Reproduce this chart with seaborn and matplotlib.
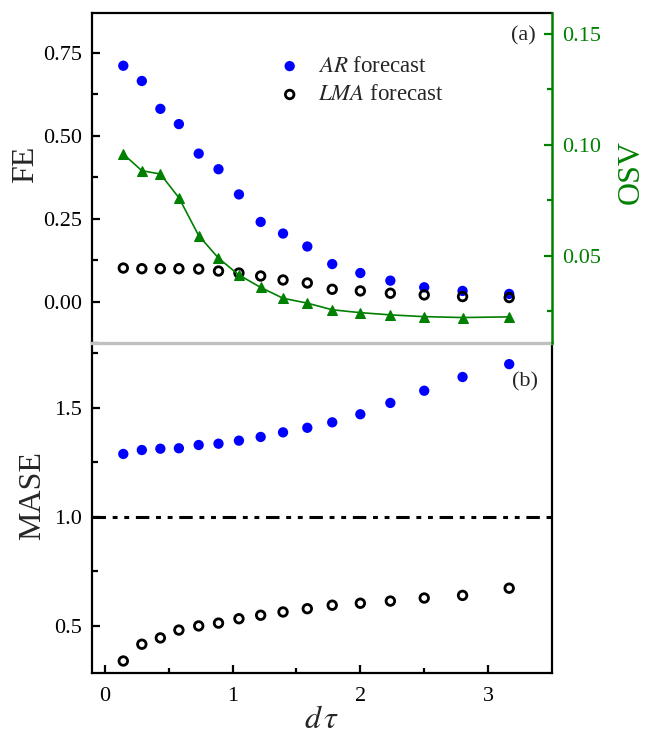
import numpy as np
import pandas as pd
import matplotlib
matplotlib.use("Agg")
import matplotlib.pyplot as plt
import seaborn as sns

# Forecast horizon
dtau = [0.145, 0.29, 0.435, 0.58, 0.735, 0.89, 1.05, 1.22, 1.395, 1.585,
        1.78, 2.0, 2.235, 2.5, 2.8, 3.165]

# Forecast error (FE)
fe_ar = [0.711, 0.665, 0.581, 0.535, 0.446, 0.399, 0.323, 0.240, 0.205, 0.166,
         0.113, 0.086, 0.063, 0.043, 0.032, 0.023]
fe_lma = [0.101, 0.099, 0.099, 0.099, 0.098, 0.092, 0.086, 0.077, 0.065, 0.056,
          0.037, 0.032, 0.025, 0.020, 0.015, 0.012]

# Out-of-sample variance (OSV)
osv = [0.0958, 0.0883, 0.0868, 0.0761, 0.0590, 0.0488, 0.0412, 0.0356, 0.0307,
       0.0285, 0.0255, 0.0242, 0.0232, 0.0224, 0.0220, 0.0223]

# Mean absolute scaled error (MASE)
mase_ar = [1.288, 1.306, 1.312, 1.314, 1.329, 1.335, 1.349, 1.366, 1.387, 1.408,
           1.433, 1.470, 1.522, 1.578, 1.641, 1.700]
mase_lma = [0.338, 0.415, 0.444, 0.480, 0.499, 0.512, 0.532, 0.548, 0.563, 0.578,
            0.594, 0.603, 0.613, 0.627, 0.639, 0.672]

df = pd.DataFrame({"dtau": dtau, "fe_ar": fe_ar, "fe_lma": fe_lma, "osv": osv,
                   "mase_ar": mase_ar, "mase_lma": mase_lma})

sns.set_theme(style="ticks")
plt.rcParams.update({
    "font.family": ["Liberation Serif", "DejaVu Serif"],
    "mathtext.fontset": "stix",
    "axes.linewidth": 1.6,
    "xtick.direction": "in",
    "ytick.direction": "in",
    "xtick.major.width": 1.6,
    "ytick.major.width": 1.6,
    "xtick.minor.width": 1.6,
    "ytick.minor.width": 1.6,
    "xtick.major.size": 6,
    "ytick.major.size": 6,
    "xtick.minor.size": 3.5,
    "ytick.minor.size": 4,
    "xtick.color": "black",
    "ytick.color": "black",
    "axes.edgecolor": "black",
})

BLUE = "#0000ff"
GREEN = "#008000"
GRAY = "#c0c0c0"
TICK_FS = 16
LEG_FS = 16.5
LABEL_FS = 23

W, H = 645, 739
fig = plt.figure(figsize=(W / 100, H / 100), dpi=100)
left, right = 92 / W, 552 / W
ax3 = fig.add_axes([left, 1 - 673 / H, right - left, 330 / H])
ax1 = fig.add_axes([left, 1 - 343 / H, right - left, 330 / H], sharex=ax3)
ax2 = ax1.twinx()
ax3.set_facecolor("none")

# ---- panel (a): forecast error + OSV ----
sns.scatterplot(data=df, x="dtau", y="fe_ar", ax=ax1, color=BLUE, s=55,
                edgecolor="none", label=r"$AR$ forecast", zorder=3)
sns.scatterplot(data=df, x="dtau", y="fe_lma", ax=ax1, facecolor="none",
                edgecolor="black", linewidth=2.0, s=38,
                label=r"$LMA$ forecast", zorder=4)
sns.lineplot(data=df, x="dtau", y="osv", ax=ax2, color=GREEN, lw=1.2,
             marker="^", markersize=7.5, markeredgecolor=GREEN, zorder=2)

ax1.set_xlim(-0.1, 3.5)
ax1.set_ylim(-0.125, 0.87)
ax1.set_yticks([0.0, 0.25, 0.5, 0.75])
ax1.set_yticks([-0.125, 0.125, 0.375, 0.625], minor=True)
ax1.set_yticklabels(["0.00", "0.25", "0.50", "0.75"])
ax1.tick_params(axis="y", which="both", labelsize=TICK_FS, pad=7, right=False)
ax1.tick_params(axis="x", which="both", bottom=False, top=False,
                labelbottom=False)
ax1.set_xlabel("")
ax1.set_ylabel("FE", fontsize=LABEL_FS)
ax1.yaxis.set_label_coords(-0.112, 0.541)
ax1.spines["bottom"].set_color(GRAY)
ax1.spines["bottom"].set_linewidth(2.4)
ax1.spines["right"].set_visible(False)

ax2.set_ylim(0.0105, 0.1595)
ax2.set_yticks([0.05, 0.10, 0.15])
ax2.set_yticks([0.025, 0.075, 0.125], minor=True)
ax2.set_yticklabels(["0.05", "0.10", "0.15"])
ax2.tick_params(axis="y", which="both", colors=GREEN, labelsize=TICK_FS,
                pad=7, width=1.6)
ax2.tick_params(axis="y", which="minor", length=3.5)
ax2.set_ylabel("OSV", fontsize=LABEL_FS, color=GREEN)
ax2.yaxis.set_label_coords(1.14, 0.517)
ax2.spines["right"].set_color(GREEN)
ax2.spines["right"].set_linewidth(1.8)
for side in ("left", "top", "bottom"):
    ax2.spines[side].set_visible(False)

ax1.text(0.937, 0.93, "(a)", transform=ax1.transAxes, ha="center",
         va="center", fontsize=TICK_FS)

leg = ax1.legend(loc="upper left", bbox_to_anchor=(0.355, 0.925),
                 frameon=False, fontsize=LEG_FS, handletextpad=0.55,
                 labelspacing=0.32, borderpad=0.3, handlelength=1.4)

# ---- panel (b): MASE ----
sns.scatterplot(data=df, x="dtau", y="mase_ar", ax=ax3, color=BLUE, s=55,
                edgecolor="none", zorder=3)
sns.scatterplot(data=df, x="dtau", y="mase_lma", ax=ax3, facecolor="none",
                edgecolor="black", linewidth=2.0, s=38, zorder=4)
ax3.axhline(1.0, color="black", lw=2.2,
            linestyle=(0, (4.4, 2.2, 1.6, 2.2, 1.6, 2.2)), zorder=2)

ax3.set_xlim(-0.1, 3.5)
ax3.set_ylim(0.283, 1.797)
ax3.set_yticks([0.5, 1.0, 1.5])
ax3.set_yticks([0.75, 1.25, 1.75], minor=True)
ax3.set_yticklabels(["0.5", "1.0", "1.5"])
ax3.set_xticks([0, 1, 2, 3])
ax3.set_xticks([0.5, 1.5, 2.5], minor=True)
ax3.set_xticklabels(["0", "1", "2", "3"])
ax3.tick_params(axis="y", which="both", labelsize=TICK_FS, pad=7, right=False)
ax3.tick_params(axis="x", which="both", labelsize=TICK_FS, pad=10, top=False)
ax3.set_ylabel("MASE", fontsize=LABEL_FS)
ax3.yaxis.set_label_coords(-0.097, 0.539)
ax3.set_xlabel(r"$d\,\tau$", fontsize=23, labelpad=0)
ax3.spines["top"].set_visible(False)

ax3.text(0.941, 0.882, "(b)", transform=ax3.transAxes, ha="center",
         va="center", fontsize=TICK_FS)

fig.savefig("out.png", dpi=100)
